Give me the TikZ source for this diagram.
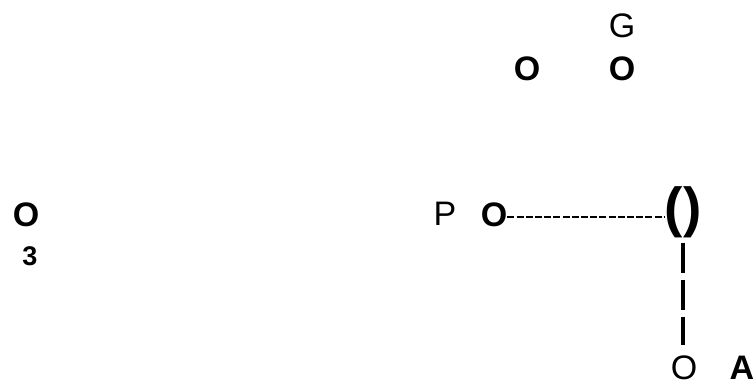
\documentclass[tikz,border=0pt]{standalone}
\usepackage{fontspec}
\setmainfont{Liberation Sans}
\tikzset{
  lbl/.style={inner sep=0pt, anchor=base, font=\fontsize{34}{40}\selectfont},
  blbl/.style={inner sep=0pt, anchor=base, font=\fontsize{34}{40}\selectfont\bfseries},
  hyph/.style={line width=2pt, dash pattern=on 7pt off 2.2pt},
  bar/.style={line width=3.4pt, dash pattern=on 30pt off 7pt}
}
\begin{document}
\begin{tikzpicture}[x=1pt, y=-1pt]
    \useasboundingbox (0,0) rectangle (755,385);

                % top pair
                \node[lbl] (g) at (622,38) {G};
                \node[blbl] (otl) at (527,81) {O};
                \node[blbl] (otr) at (622,81) {O};

                % left
                \node[blbl] (ol) at (26,226) {O};
                \node[inner sep=0pt, anchor=base, font=\fontsize{27}{32}\selectfont\bfseries] (n3) at (30,265) {3};

                % middle row
                \node[lbl] (p) at (445,225) {P};
                \node[blbl] (om) at (494,226) {O};
                \node[inner sep=0pt, anchor=base, font=\fontsize{55}{64}\selectfont\bfseries] (par) at (683,226) {()};

                % bottom
                \node[lbl] (ob) at (684,379) {O};
                \node[blbl] (a) at (742,379) {A};

                % links
                \draw[hyph] ([yshift=-3pt]om.east) -- ([yshift=-3pt]om.east -| par.west);
                \draw[bar] ([yshift=-5pt]par.south) -- ([yshift=10pt]par.south |- ob.north);

\end{tikzpicture}
\end{document}
